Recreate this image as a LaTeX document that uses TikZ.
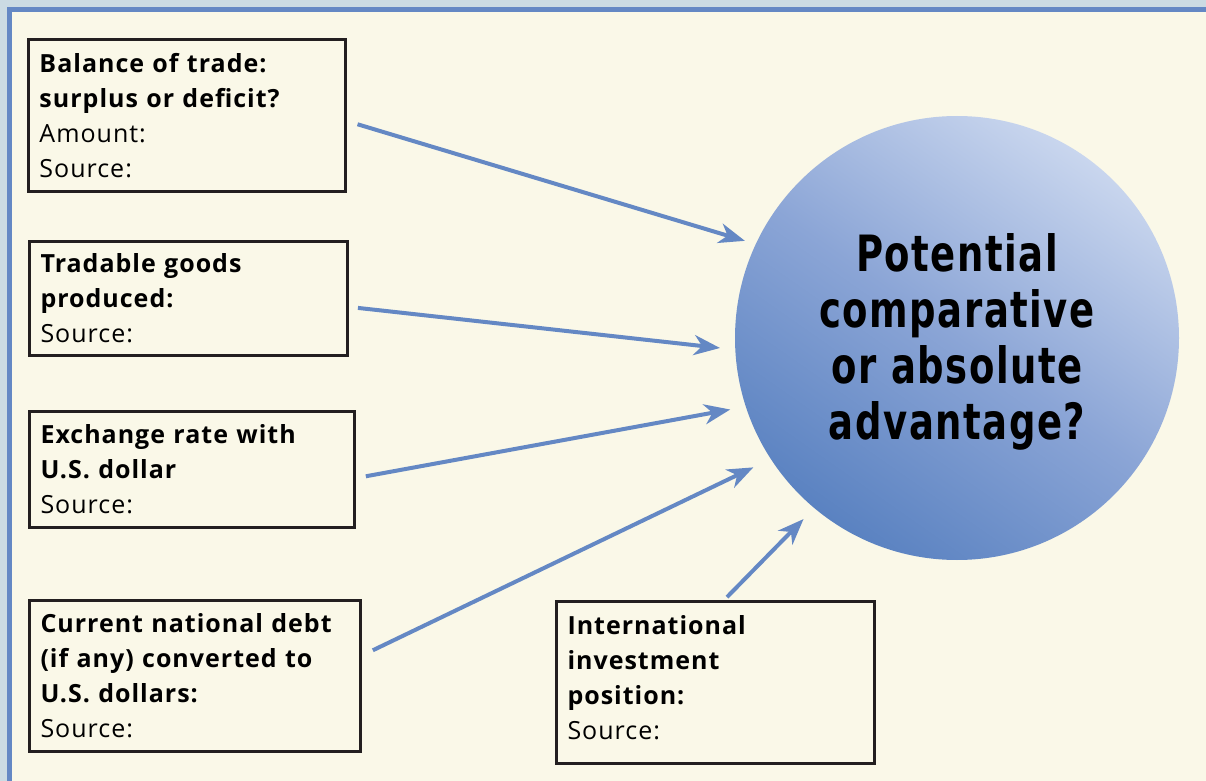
\documentclass[tikz,border=0pt]{standalone}
\usepackage{fontspec}
\setmainfont{Open Sans}[LetterSpace=4]
\newfontfamily\advfont{DejaVu Sans}[FakeStretch=0.74,LetterSpace=3]
\usepackage{tikz}
\usetikzlibrary{positioning,arrows.meta}
\definecolor{frameblue}{HTML}{CBDBE3}
\definecolor{ruleblue}{HTML}{6488C4}
\definecolor{paper}{HTML}{FAF8E8}
\definecolor{boxline}{HTML}{231F20}
\definecolor{advlight}{HTML}{C9D6EE}
\definecolor{advmid}{HTML}{8BA5D6}
\definecolor{advdark}{HTML}{5A82C1}

\begin{document}
\begin{tikzpicture}
 [x=0.5pt, y=-0.5pt,
  factbox/.style={rectangle,draw=boxline,line width=1.5pt,fill=paper,anchor=north west,
   align=left,inner xsep=5.5pt,inner ysep=0pt,font=\fontsize{12.5}{17.5}\selectfont},
  flow/.style={draw=ruleblue,line width=2pt,-{Stealth[length=13pt,width=10pt,inset=4pt]}}]
 \useasboundingbox (0,0) rectangle (1206,781);
 \fill[frameblue] (0,0) rectangle (1206,781);
 \fill[ruleblue] (7,7) rectangle (1206,781);
 \fill[paper] (12,12) rectangle (1206,781);
 \node (adv) [circle,inner sep=0pt,minimum size=222pt,top color=advlight,bottom color=advdark,
  middle color=advmid,shading angle=-35,align=center,
  font=\advfont\bfseries\fontsize{25}{28}\selectfont] at (957,338)
  {\rule{0pt}{23pt}Potential\\comparative\\or absolute\\advantage?};
 \node (bal) [factbox,text width=147.5pt,minimum height=76pt] at (27,38)
  {\textbf{Balance of trade:}\\\textbf{surplus or deficit?}\\Amount:\\Source:};
 \node (goods) [factbox,text width=148pt,minimum height=57pt] at (28,240)
  {\textbf{Tradable goods}\\\textbf{produced:}\\Source:};
 \node (rate) [factbox,text width=151.5pt,minimum height=58pt] at (28,410)
  {\textbf{Exchange rate with}\\\textbf{U.S. dollar}\\Source:};
 \node (debt) [factbox,text width=154.5pt,minimum height=75.5pt] at (28,599)
  {\textbf{Current national debt}\\\textbf{(if any) converted to}\\\textbf{U.S. dollars:}\\Source:};
 \node (invest) [factbox,text width=148pt,minimum height=81pt] at (555,600)
  {\textbf{International}\\\textbf{investment}\\\textbf{position:}\\Source:\rule[-5pt]{0pt}{5pt}};
 \foreach \from/\to/\s/\e in {bal.358/adv.155.6/5.5pt/5.5pt, goods.357/adv.183/4.5pt/7.5pt,
  rate.357.5/adv.198.7/5pt/7.75pt, debt.7/adv.213.2/6pt/9.5pt, invest.84/adv.230.1/2pt/7.5pt}
 \draw[flow,shorten <=\s,shorten >=\e] (\from) -- (\to);
\end{tikzpicture}
\end{document}
